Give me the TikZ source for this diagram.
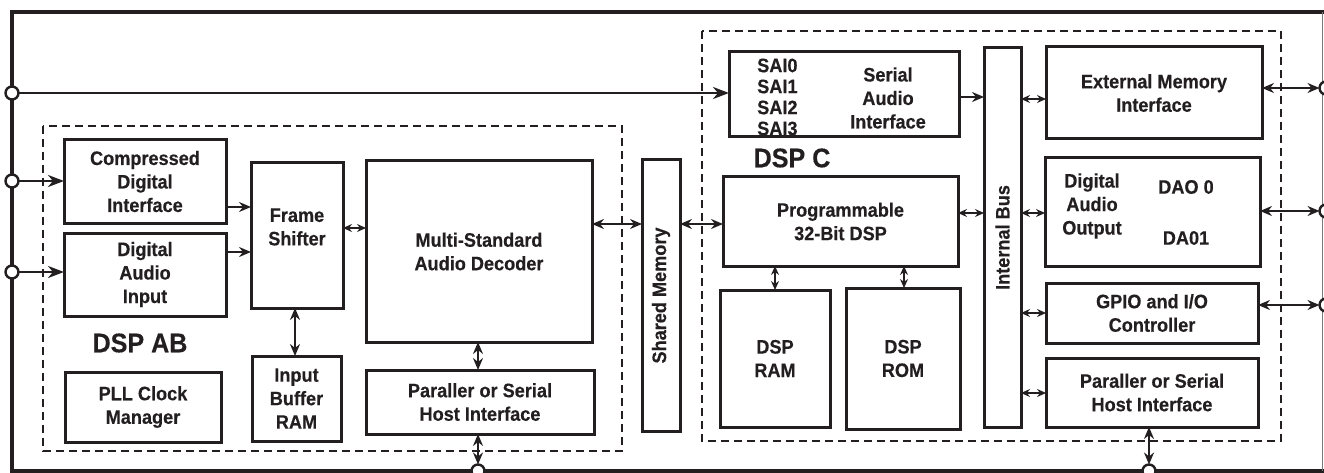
\documentclass[tikz,border=0pt]{standalone}
\usepackage{fontspec}
\setmainfont{Liberation Sans}[FakeStretch=0.93,BoldFeatures={FakeBold=0.35}]
\usetikzlibrary{arrows.meta}
\definecolor{ink}{RGB}{35,31,32}
\begin{document}
\begin{tikzpicture}[x=1pt,y=-1pt,line join=miter,
 box/.style={draw=ink,line width=3pt,inner sep=0pt,outer sep=0pt,text=ink,
   font=\fontsize{19.5}{23.5}\selectfont\bfseries,align=center},
 lbl/.style={text=ink,font=\fontsize{19.5}{23.5}\selectfont\bfseries,align=center,inner sep=0pt},
 big/.style={text=ink,font=\fontsize{27}{30}\selectfont\bfseries,inner sep=0pt},
 group/.style={draw=ink,line width=2.5pt,dash pattern=on 8pt off 5pt},
 port/.style={circle,draw=ink,fill=white,line width=2.4pt,minimum size=13pt,inner sep=0pt,outer sep=0pt},
 conn/.style={draw=ink,line width=2.6pt},
 arr/.style={conn,-{Stealth[length=16pt,width=12pt,inset=5pt]}},
 sarr/.style={conn,-{Stealth[length=12pt,width=10pt,inset=4pt]}},
 darr/.style={conn,{Stealth[length=12pt,width=10pt,inset=4pt]}-{Stealth[length=12pt,width=10pt,inset=4pt]}},
 sdarr/.style={conn,line width=2.2pt,{Stealth[length=9pt,width=8pt,inset=3pt]}-{Stealth[length=9pt,width=8pt,inset=3pt]}}
]
\useasboundingbox (0,0) rectangle (1324,473);
% outer frame
\draw[draw=ink,line width=4.5pt] (1334,12) -- (12,12) -- (12,471) -- (1334,471);
\draw[draw=ink!60,line width=1pt] (1322.5,12) -- (1322.5,471);
% group frames
\draw[group] (43,126) rectangle (622,451);
\draw[group] (702,31) rectangle (1281,441);
% ports
\node[port] (pl1) at (12,93) {};
\node[port] (pl2) at (12,181) {};
\node[port] (pl3) at (12,272) {};
\node[port] (pb1) at (478,471) {};
\node[port] (pb2) at (1149,471) {};
\node[port] (pr1) at (1326,88) {};
\node[port] (pr2) at (1326,211) {};
\node[port] (pr3) at (1326,305) {};
% DSP AB boxes
\node[box,minimum width=162pt,minimum height=83pt] (cdi) at (145,181.5) {Compressed\\Digital\\Interface};
\node[box,minimum width=162pt,minimum height=83pt] (dai) at (145,274.5) {Digital\\Audio\\Input};
\node[box,minimum width=92pt,minimum height=145pt] (fs) at (297,235.5) {};
\node[lbl] (fst) at (297,227) {Frame\\Shifter};
\node[box,minimum width=226pt,minimum height=181pt] (ms) at (479,251.5) {Multi-Standard\\Audio Decoder};
\node[box,minimum width=89pt,minimum height=85pt] (ibr) at (296.5,398.5) {Input\\Buffer\\RAM};
\node[box,minimum width=156pt,minimum height=70pt] (pll) at (143,407) {PLL Clock\\Manager};
\node[box,minimum width=228pt,minimum height=64pt] (phl) at (480,402) {Paraller or Serial\\Host Interface};
\node[big] (dspab) at (140,343) {DSP AB};
% shared memory
\node[box,minimum width=38pt,minimum height=271pt] (sm) at (661,295.5) {};
\node[lbl,rotate=90] (smt) at (661,295.5) {Shared Memory};
% DSP C boxes
\node[box,minimum width=230pt,minimum height=85pt] (sai) at (844,94.5) {};
\node[lbl,anchor=west,align=left,font=\fontsize{19.5}{21}\selectfont\bfseries] (sait) at (757,97) {SAI0\\SAI1\\SAI2\\SAI3};
\node[lbl] (sainame) at (888,98) {Serial\\Audio\\Interface};
\node[big] (dspc) at (792,158) {DSP C};
\node[box,minimum width=235pt,minimum height=89pt] (pd) at (840.5,221.5) {Programmable\\32-Bit DSP};
\node[box,minimum width=110pt,minimum height=137pt] (ram) at (775,358.5) {DSP\\RAM};
\node[box,minimum width=114pt,minimum height=141pt] (rom) at (903,358.5) {DSP\\ROM};
\node[box,minimum width=37pt,minimum height=379pt] (ib) at (1002.5,237.5) {};
\node[lbl,rotate=90] (ibt) at (1002.5,237.5) {Internal Bus};
\node[box,minimum width=216pt,minimum height=92pt] (emi) at (1154,93) {External Memory\\Interface};
\node[box,minimum width=215pt,minimum height=108pt] (dao) at (1152.5,212) {};
\node[lbl] (daot) at (1092,206) {Digital\\Audio\\Output};
\node[lbl] (dao0) at (1186,187) {DAO 0};
\node[lbl] (dao1) at (1186,238) {DA01};
\node[box,minimum width=212pt,minimum height=60pt] (gpio) at (1152,313) {GPIO and I/O\\Controller};
\node[box,minimum width=212pt,minimum height=69pt] (phr) at (1152,392.5) {Paraller or Serial\\Host Interface};
% connectors
\draw[arr] (pl1.east) -- (sai.west |- pl1);
\draw[arr] (pl2.east) -- (cdi.west |- pl2);
\draw[arr] (pl3.east) -- (dai.west |- pl3);
\draw[sarr] (cdi.east |- 0,207) -- (fs.west |- 0,207);
\draw[sarr] (dai.east |- 0,252) -- (fs.west |- 0,252);
\draw[sdarr] (fs.east |- 0,228) -- (ms.west |- 0,228);
\draw[darr] (295,0 |- fs.south) -- (295,0 |- ibr.north);
\draw[darr] (478,0 |- ms.south) -- (478,0 |- phl.north);
\draw[darr] (478,0 |- phl.south) -- (pb1.north);
\draw[darr] (ms.east |- 0,224) -- (sm.west |- 0,224);
\draw[darr] (sm.east |- 0,224) -- (pd.west |- 0,224);
\draw[sdarr] (ram.north |- pd.south) -- (ram.north);
\draw[sdarr] (904,0 |- pd.south) -- (904,0 |- rom.north);
\draw[sarr] (sai.east |- 0,97) -- (ib.west |- 0,97);
\draw[sdarr] (pd.east |- 0,213) -- (ib.west |- 0,213);
\draw[sdarr] (ib.east |- 0,99) -- (emi.west |- 0,99);
\draw[sdarr] (ib.east |- 0,213) -- (dao.west |- 0,213);
\draw[sdarr] (ib.east |- 0,313) -- (gpio.west |- 0,313);
\draw[sdarr] (ib.east |- 0,393) -- (phr.west |- 0,393);
\draw[darr] (emi.east |- pr1) -- (pr1.west);
\draw[darr] (dao.east |- pr2) -- (pr2.west);
\draw[darr] (gpio.east |- pr3) -- (pr3.west);
\draw[darr] (phr.south -| pb2) -- (pb2.north);
\end{tikzpicture}
\end{document}
